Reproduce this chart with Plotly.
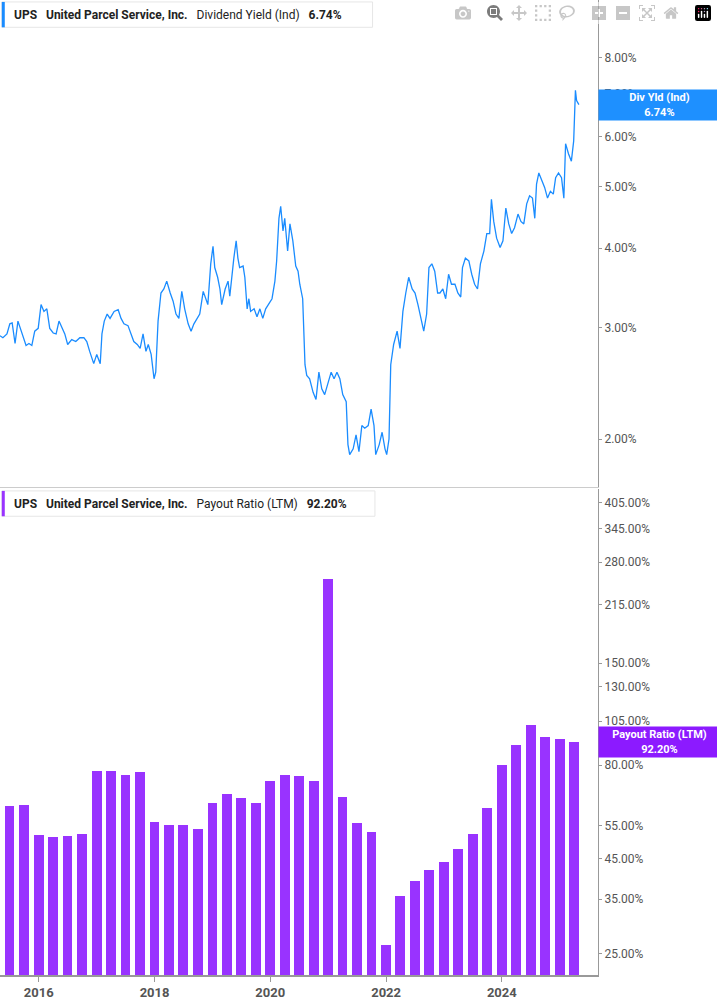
import pandas as pd
import numpy as np
import plotly.graph_objects as go
from plotly.subplots import make_subplots

# Dividend yield (decimal years, %)
yld_years = [2015.33,2015.38,2015.45,2015.50,2015.54,2015.59,2015.64,2015.68,2015.73,2015.78,2015.83,2015.88,2015.93,2015.99,
 2016.04,2016.09,2016.14,2016.19,2016.25,2016.30,2016.35,2016.40,2016.45,2016.50,2016.57,2016.64,2016.71,2016.78,2016.83,2016.88,2016.95,
 2017.00,2017.06,2017.09,2017.13,2017.18,2017.23,2017.30,2017.37,2017.42,2017.47,2017.54,2017.59,2017.64,2017.70,2017.75,2017.80,2017.85,2017.89,2017.94,2017.99,
 2018.02,2018.06,2018.11,2018.16,2018.21,2018.27,2018.32,2018.37,2018.42,2018.47,2018.52,2018.58,2018.63,2018.68,2018.73,2018.78,2018.84,2018.87,2018.92,2018.97,
 2019.01,2019.04,2019.09,2019.13,2019.16,2019.22,2019.27,2019.30,2019.34,2019.37,2019.41,2019.44,2019.47,2019.53,2019.56,2019.60,2019.63,2019.66,2019.72,2019.77,2019.82,2019.87,2019.92,2019.97,
 2020.03,2020.08,2020.11,2020.15,2020.18,2020.22,2020.25,2020.30,2020.34,2020.39,2020.44,2020.48,2020.51,2020.56,2020.60,2020.63,2020.68,2020.74,2020.79,2020.84,2020.89,2020.94,2020.99,
 2021.05,2021.10,2021.15,2021.20,2021.25,2021.31,2021.34,2021.37,2021.43,2021.48,2021.53,2021.58,2021.63,2021.69,2021.74,2021.79,2021.82,2021.88,2021.93,2021.98,
 2022.01,2022.05,2022.08,2022.13,2022.19,2022.24,2022.29,2022.34,2022.39,2022.45,2022.50,2022.55,2022.60,2022.65,2022.70,2022.74,2022.79,2022.84,2022.89,2022.93,2022.98,
 2023.03,2023.08,2023.13,2023.19,2023.24,2023.29,2023.32,2023.37,2023.43,2023.48,2023.53,2023.58,2023.63,2023.69,2023.74,2023.79,2023.82,2023.86,2023.91,2023.97,
 2024.02,2024.07,2024.12,2024.17,2024.22,2024.28,2024.33,2024.38,2024.43,2024.48,2024.53,2024.57,2024.60,2024.64,2024.69,2024.74,2024.79,2024.84,2024.89,2024.93,2024.98,
 2025.03,2025.07,2025.10,2025.15,2025.20,2025.24,2025.27,2025.29,2025.33]
yld_values = [2.91,2.89,2.93,3.04,3.05,2.83,3.07,2.99,2.89,2.81,2.83,2.81,2.96,2.99,
 3.26,3.18,3.21,2.99,2.94,2.93,3.07,2.99,2.93,2.82,2.87,2.85,2.89,2.89,2.85,2.75,2.63,
 2.72,2.63,2.93,3.07,3.15,3.10,3.18,3.20,3.10,3.04,3.02,2.94,2.85,2.82,2.78,2.93,2.75,2.82,2.72,2.49,
 2.55,3.07,3.40,3.45,3.55,3.40,3.30,3.15,3.10,3.42,3.21,3.04,2.96,3.04,3.10,3.15,3.42,3.36,3.26,3.78,
 4.03,3.73,3.60,3.45,3.26,3.45,3.55,3.36,3.68,3.86,4.11,3.86,3.73,3.75,3.60,3.21,3.33,3.18,3.21,3.12,3.21,3.10,3.21,3.26,
 3.33,3.55,3.82,4.46,4.66,4.26,4.46,3.96,4.37,4.11,3.75,3.68,3.51,3.33,2.62,2.52,2.49,2.37,2.31,2.55,2.40,2.35,2.44,
 2.55,2.49,2.55,2.49,2.35,2.29,1.96,1.89,1.93,2.03,1.91,2.10,2.08,2.10,2.23,2.10,1.89,1.96,2.05,1.93,
 1.89,2.00,2.62,2.82,2.96,2.78,3.18,3.40,3.60,3.45,3.40,3.26,3.10,2.96,3.15,3.73,3.78,3.68,3.40,3.40,3.45,
 3.33,3.64,3.51,3.51,3.40,3.35,3.73,3.86,3.82,3.64,3.51,3.45,3.78,3.96,4.22,4.22,4.78,4.41,4.15,4.01,
 4.11,4.63,4.37,4.22,4.31,4.53,4.41,4.37,4.70,4.84,4.80,4.46,5.05,5.26,5.11,4.99,4.80,4.92,4.87,5.17,5.26,
 5.17,4.80,5.85,5.64,5.49,5.91,7.10,6.84,6.74]

# Payout ratio (LTM), quarterly, %
payout_start = "2015-07-01"
payout_values = [62.2,62.5,52.0,51.5,51.7,52.3,77.2,77.0,75.5,76.9,
 56.2,55.3,55.4,53.8,63.4,67.0,65.4,63.3,72.5,75.2,
 74.7,72.4,253.0,65.9,55.9,52.8,26.4,35.7,39.1,41.9,
 44.0,47.8,52.3,61.6,80.0,90.4,102.6,95.4,93.8,92.2]

yld_ticks = [2, 3, 4, 5, 6, 7, 8]
pay_ticks = [25, 35, 45, 55, 80, 105, 130, 150, 215, 280, 345, 405]
x_ticks = ["2016-01-01", "2018-01-01", "2020-01-01", "2022-01-01", "2024-01-01"]
x_ticklabels = ["2016", "2018", "2020", "2022", "2024"]

def dec_to_date(y):
    yi = int(y)
    return pd.Timestamp(yi, 1, 1) + pd.Timedelta(days=(y - yi) * 365.25)

yld_dates = [dec_to_date(y) for y in yld_years]
pay_dates = pd.date_range(payout_start, periods=len(payout_values), freq="QS")

BLUE = "#1a8cff"
PURPLE = "#9933ff"
GRAY = "#555555"

fig = make_subplots(rows=2, cols=1, shared_xaxes=True, vertical_spacing=0.002)
fig.add_trace(go.Scatter(x=yld_dates, y=yld_values, mode="lines",
                         line=dict(color=BLUE, width=1.3), showlegend=False), row=1, col=1)
fig.add_trace(go.Bar(x=pay_dates, y=payout_values, marker=dict(color=PURPLE, line=dict(width=0)),
                     width=0.68 * 91 * 86400000, showlegend=False), row=2, col=1)

axfont = dict(family="Roboto, Arial", size=12, color=GRAY)
fig.update_layout(
    width=717, height=1005, margin=dict(l=0, r=119, t=0, b=30),
    plot_bgcolor="white", paper_bgcolor="white", bargap=0,
    xaxis=dict(domain=[0, 1]),
    yaxis=dict(domain=[0.5005, 1]), yaxis2=dict(domain=[0, 0.4985]),
)
xr = [dec_to_date(2015.33), dec_to_date(2025.66)]
for r in (1, 2):
    fig.update_xaxes(range=xr, showgrid=False, zeroline=False, row=r, col=1)
fig.update_xaxes(showline=True, linecolor="#999", linewidth=1.5, ticks="outside", tickcolor="#999",
                 ticklen=5, tickvals=x_ticks, ticktext=[f"<b>{t}</b>" for t in x_ticklabels],
                 tickfont=dict(family="Roboto, Arial", size=13, color=GRAY), row=2, col=1)
fig.update_xaxes(showline=True, linecolor="#ccc", linewidth=1, mirror=False, showticklabels=False, ticks="", row=1, col=1)
fig.update_yaxes(type="log", side="right", range=[np.log10(1.68), np.log10(9.86)],
                 tickvals=yld_ticks, ticktext=[f"{v:.2f}%" for v in yld_ticks],
                 ticks="outside", ticklen=3, tickcolor="#999", tickfont=axfont,
                 showgrid=False, zeroline=False, showline=True, linecolor="#999", row=1, col=1)
fig.update_yaxes(type="log", side="right", range=[np.log10(21.9), np.log10(440)],
                 tickvals=pay_ticks, ticktext=[f"{v:.2f}%" for v in pay_ticks],
                 ticks="outside", ticklen=3, tickcolor="#999", tickfont=axfont,
                 showgrid=False, zeroline=False, showline=True, linecolor="#999", row=2, col=1)

def header(ytop, color, label, value, x1):
    fig.add_shape(type="rect", xref="paper", yref="paper", x0=0.003, x1=x1,
                  y0=ytop - 0.028, y1=ytop - 0.002, line=dict(color="#e6e6e6", width=1),
                  fillcolor="white", layer="above")
    fig.add_shape(type="rect", xref="paper", yref="paper", x0=0.003, x1=0.008,
                  y0=ytop - 0.028, y1=ytop - 0.002, line=dict(width=0), fillcolor=color, layer="above")
    fig.add_annotation(xref="paper", yref="paper", x=0.02, y=ytop - 0.015, xanchor="left", yanchor="middle",
                       showarrow=False, font=dict(family="Roboto, Arial", size=12, color="#222"),
                       text=f"<b>UPS</b>   <b>United Parcel Service, Inc.</b>   {label}   <b>{value}</b>")

header(1.0, BLUE, "Dividend Yield (Ind)", "6.74%", 0.623)
header(0.4985, PURPLE, "Payout Ratio (LTM)", "92.20%", 0.627)

fig.add_annotation(xref="paper", yref="y", x=1, y=np.log10(yld_values[-1]), xanchor="left", yanchor="middle",
                   showarrow=False, bgcolor="#1e90ff", width=119, height=28,
                   font=dict(family="Roboto, Arial", size=11, color="white"),
                   text=f"<b>Div Yld (Ind)<br>{yld_values[-1]:.2f}%</b>")
fig.add_annotation(xref="paper", yref="y2", x=1, y=np.log10(payout_values[-1]), xanchor="left", yanchor="middle",
                   showarrow=False, bgcolor="#8c1aff", width=119, height=28,
                   font=dict(family="Roboto, Arial", size=11, color="white"),
                   text=f"<b>Payout Ratio (LTM)<br>{payout_values[-1]:.2f}%</b>")

fig.write_html("out.html", post_script="document.body.style.margin='0';document.body.style.overflow='hidden';")
